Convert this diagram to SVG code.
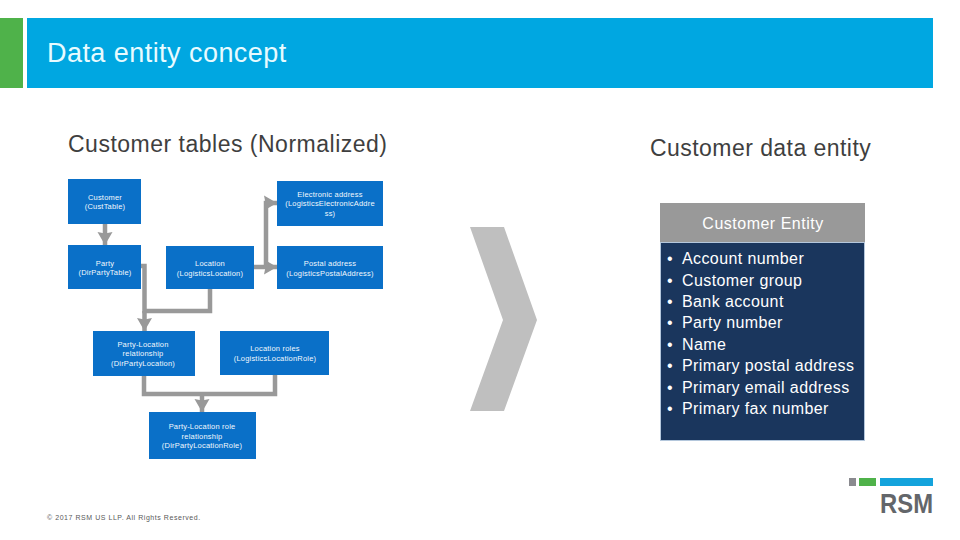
<svg xmlns="http://www.w3.org/2000/svg" width="960" height="540" viewBox="0 0 960 540">
<style>
text{font-family:"Liberation Sans",Arial,sans-serif}
.n rect{fill:#0a70c8}
.n text{fill:#f2f8fd;font-size:7.5px;text-anchor:middle;letter-spacing:.2px}
.h{fill:#3f3f3f;font-size:23px}
.c{fill:none;stroke:#999;stroke-width:4.5}
.b{fill:#fff;font-size:16px;letter-spacing:.4px}
</style>
<defs><marker id="a" markerUnits="userSpaceOnUse" markerWidth="16" markerHeight="16" refX="13" refY="8" orient="auto"><path d="M0 0.5L13 8L0 15.500L1.500 8Z" fill="#999"/></marker></defs>
<rect x="0" y="18" width="23" height="70" fill="#4fb24a"/>
<rect x="27" y="18" width="906" height="70" fill="#00a7e1"/>
<text x="47" y="62" font-size="27" fill="#e8fbff" letter-spacing=".45">Data entity concept</text>
<text class="h" x="68" y="152" letter-spacing=".5">Customer tables (Normalized)</text>
<text class="h" x="650" y="156" letter-spacing=".45">Customer data entity</text>
<g id="connectors">
<path class="c" marker-end="url(#a)" d="M105 224V245"/>
<path class="c" d="M141 266H144.500V311H210V289"/>
<path class="c" marker-end="url(#a)" d="M144.500 311V331"/>
<path class="c" marker-end="url(#a)" d="M254 267H277"/>
<path class="c" marker-end="url(#a)" d="M266 267V203H277"/>
<path class="c" d="M144 376V394H275V375"/>
<path class="c" marker-end="url(#a)" d="M202 394V412"/>
</g>
<g id="customer" class="n"><rect x="68" y="179" width="73" height="45"/><text x="105" y="200">Customer</text><text x="105" y="209">(CustTable)</text></g>
<g id="party" class="n"><rect x="68" y="245" width="73" height="44"/><text x="105" y="266">Party</text><text x="105" y="275">(DirPartyTable)</text></g>
<g id="location" class="n"><rect x="166" y="246" width="88" height="43"/><text x="210" y="266">Location</text><text x="210" y="276">(LogisticsLocation)</text></g>
<g id="electronic" class="n"><rect x="277" y="181" width="106" height="45"/><text x="330" y="197">Electronic address</text><text x="330" y="206">(LogisticsElectronicAddre</text><text x="330" y="216">ss)</text></g>
<g id="postal" class="n"><rect x="277" y="246" width="106" height="43"/><text x="330" y="266">Postal address</text><text x="330" y="276">(LogisticsPostalAddress)</text></g>
<g id="party-location" class="n"><rect x="93" y="331" width="102" height="45"/><text x="143" y="347">Party-Location</text><text x="143" y="356">relationship</text><text x="143" y="366">(DirPartyLocation)</text></g>
<g id="location-roles" class="n"><rect x="220" y="331" width="109" height="44"/><text x="275" y="351">Location roles</text><text x="275" y="361">(LogisticsLocationRole)</text></g>
<g id="party-location-role" class="n"><rect x="149" y="412" width="107" height="47"/><text x="202" y="429">Party-Location role</text><text x="202" y="439">relationship</text><text x="202" y="448">(DirPartyLocationRole)</text></g>
<polygon id="chevron" points="470,227 504,227 537,320 504,411 470,411 503,320" fill="#bfbfbf"/>
<g id="customer-entity">
<rect x="660" y="203" width="205" height="39" fill="#999"/>
<text x="763" y="229" font-size="16" fill="#fff" text-anchor="middle" letter-spacing=".5">Customer Entity</text>
<rect x="660.500" y="242.500" width="204" height="198" fill="#1a365d" stroke="#b4c7dc"/>
<g class="b">
<text x="667" y="264">•</text><text x="682" y="264">Account number</text>
<text x="667" y="286">•</text><text x="682" y="286">Customer group</text>
<text x="667" y="307">•</text><text x="682" y="307">Bank account</text>
<text x="667" y="328">•</text><text x="682" y="328">Party number</text>
<text x="667" y="350">•</text><text x="682" y="350">Name</text>
<text x="667" y="371">•</text><text x="682" y="371">Primary postal address</text>
<text x="667" y="393">•</text><text x="682" y="393">Primary email address</text>
<text x="667" y="414">•</text><text x="682" y="414">Primary fax number</text>
</g>
</g>
<text x="47" y="520" font-size="7" fill="#595959" letter-spacing=".55">© 2017 RSM US LLP. All Rights Reserved.</text>
<g id="logo">
<rect x="849" y="478" width="7" height="8" fill="#8a8a8f"/>
<rect x="859" y="478" width="17" height="8" fill="#4fb24a"/>
<rect x="880" y="478" width="53" height="8" fill="#14a3dc"/>
<text x="880" y="513" font-size="28" font-weight="700" fill="#63666a" textLength="53" lengthAdjust="spacingAndGlyphs">RSM</text>
</g>
</svg>
